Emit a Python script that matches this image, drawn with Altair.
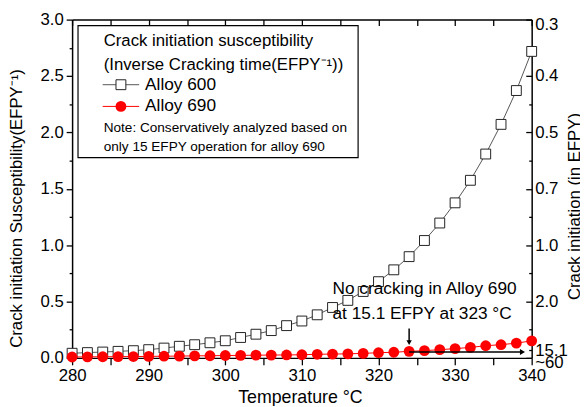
import altair as alt
import pandas as pd

# ---------------- data ----------------
temps = list(range(280, 341, 2))
alloy600 = [0.041, 0.047, 0.052, 0.058, 0.064, 0.073, 0.087, 0.103, 0.117, 0.134,
            0.152, 0.181, 0.210, 0.242, 0.286, 0.327, 0.382, 0.447, 0.510, 0.589,
            0.676, 0.781, 0.898, 1.041, 1.196, 1.375, 1.575, 1.808, 2.071, 2.371, 2.718]
alloy690 = [0.008, 0.009, 0.010, 0.011, 0.012, 0.013, 0.015, 0.016, 0.018, 0.019,
            0.021, 0.022, 0.024, 0.025, 0.026, 0.028, 0.032, 0.034, 0.036, 0.040,
            0.046, 0.050, 0.058, 0.064, 0.073, 0.082, 0.093, 0.108, 0.117, 0.131, 0.151]
series_names = ["Alloy 600", "Alloy 690"]
legend_title = ["Crack initiation susceptibility", "(Inverse Cracking time(EFPY\u207b\u00b9))"]
legend_note = ["Note: Conservatively analyzed based on", "only 15 EFPY operation for alloy 690"]
annotation_text = ["No cracking in Alloy 690", "at 15.1 EFPY at 323 \u00b0C"]
annotation_temp = [314, 314]
annotation_val = [0.612, 0.385]
arrow_down = {"T": [324], "v1": [0.26], "v2": [0.135]}
arrow_right = {"T1": [324], "T2": [338.8], "v": [0.052]}
x_ticks = list(range(280, 341, 5))
y_ticks = [i * 0.25 for i in range(13)]
right_vals = [3.0, 2.5, 2.0, 1.5, 1.0, 0.5, 0.0662, 0.0]
right_labels = ["0.3", "0.4", "0.5", "0.7", "1.0", "2.0", "15.1", "~60"]
right_ticks = y_ticks + [0.0662]

FONT = "Liberation Sans"

df600 = pd.DataFrame({"T": temps, "S": alloy600})
df690 = pd.DataFrame({"T": temps, "S": alloy690})
df_ann = pd.DataFrame({"T": annotation_temp, "S": annotation_val, "txt": annotation_text})
df_down = pd.DataFrame(arrow_down)
df_right = pd.DataFrame(arrow_right)
one = pd.DataFrame({"a": [0]})

x_scale = alt.Scale(domain=[280, 340], nice=False, zero=False)
y_scale = alt.Scale(domain=[0, 3], nice=False, zero=False)

minor_test = "datum.value % 0.5 != 0"

main_x_axis = alt.Axis(
    values=x_ticks, labelExpr="datum.value % 10 == 0 ? datum.label : ''",
    tickSize=7, tickWidth=1.3, domainWidth=1.5, labelFontSize=17, labelPadding=3,
    labelFlush=False, labelOverlap=False, grid=False,
    title="Temperature \u00b0C", titleFontSize=18, titleX=231, titleY=45,
    titleBaseline="alphabetic", titleAlign="center", orient="bottom")

main_y_axis = alt.Axis(
    values=y_ticks, labelExpr="datum.value % 0.5 == 0 ? format(datum.value, '.1f') : ''",
    tickSize={"condition": {"test": minor_test, "value": 3}, "value": 6},
    tickWidth=1.3, domainWidth=1.5, labelFontSize=17, labelPadding=3,
    labelOverlap=False, grid=False,
    title="Crack initiation Susceptibility(EFPY\u207b\u00b9)", titleFontSize=17,
    titleAngle=270, titleX=-56, titleY=191, titleAlign="center", titleBaseline="middle",
    orient="left")

top_frame_axis = alt.Axis(
    values=x_ticks, labels=False, tickSize=6, tickWidth=1.3, domainWidth=1.5,
    grid=False, title=None, orient="bottom", offset=-343)

right_tick_axis = alt.Axis(
    values=right_ticks, labels=False,
    tickSize={"condition": {"test": minor_test, "value": 3}, "value": 6},
    tickWidth=1.3, domainWidth=1.5, grid=False, title=None, orient="left", offset=-466)

right_label_expr = " : ".join(
    f"datum.value == {v} ? '{l}'" for v, l in zip(right_vals, right_labels)) + " : ''"

right_label_axis = alt.Axis(
    values=right_vals, labelExpr=right_label_expr, ticks=False, domain=False,
    labelFontSize=17, labelPadding=3, labelOverlap=False, grid=False,
    labelOffset={"condition": {"test": "datum.value == 0 || datum.value == 3", "value": 5}, "value": 0},
    title="Crack initiation (in EFPY)", titleFontSize=17, titleAngle=270,
    titleX=43, titleY=189, titleAlign="center", titleBaseline="middle", orient="right")

# ---------------- series ----------------
line600 = alt.Chart(df600).mark_line(color="#555555", strokeWidth=1).encode(
    x=alt.X("T:Q", scale=x_scale, axis=main_x_axis),
    y=alt.Y("S:Q", scale=y_scale, axis=main_y_axis))
pts600 = alt.Chart(df600).mark_point(
    shape="square", size=100, filled=True, fill="white", stroke="#222222",
    strokeWidth=1, opacity=1).encode(
    x=alt.X("T:Q", axis=None), y=alt.Y("S:Q", axis=None))

line690 = alt.Chart(df690).mark_line(color="red", strokeWidth=1).encode(
    x=alt.X("T:Q", axis=top_frame_axis),
    y=alt.Y("S:Q", axis=right_tick_axis))
pts690 = alt.Chart(df690).mark_circle(color="red", size=120, opacity=1).encode(
    x=alt.X("T:Q", axis=None), y=alt.Y("S:Q", axis=None))

# ---------------- annotation ----------------
ann = alt.Chart(df_ann).mark_text(
    align="left", baseline="middle", fontSize=17.5, font=FONT, color="black").encode(
    x=alt.X("T:Q", axis=None), y=alt.Y("S:Q", axis=right_label_axis), text="txt:N")

down_rule = alt.Chart(df_down).mark_rule(color="black", strokeWidth=1.5).encode(
    x=alt.X("T:Q", axis=None), y=alt.Y("v1:Q", axis=None), y2="v2:Q")
down_head = alt.Chart(df_down).mark_point(
    shape="triangle-down", filled=True, color="black", size=30, opacity=1).encode(
    x=alt.X("T:Q", axis=None), y=alt.Y("v2:Q", axis=None))
right_rule = alt.Chart(df_right).mark_rule(color="black", strokeWidth=1.5).encode(
    x=alt.X("T1:Q", axis=None), x2="T2:Q", y=alt.Y("v:Q", axis=None))
right_head = alt.Chart(df_right).mark_point(
    shape="triangle-right", filled=True, color="black", size=35, opacity=1).encode(
    x=alt.X("T2:Q", axis=None), y=alt.Y("v:Q", axis=None))

# ---------------- legend (drawn by hand) ----------------
leg_box = alt.Chart(one).mark_rect(fill="white", stroke="black", strokeWidth=1.2).encode(
    x=alt.value(6), x2=alt.value(290), y=alt.value(6), y2=alt.value(140))

def leg_text(txt, x, y, size):
    return alt.Chart(one).mark_text(
        align="left", baseline="middle", fontSize=size, font=FONT, color="black",
        text=txt).encode(x=alt.value(x), y=alt.value(y))

leg_t1 = leg_text(legend_title[0], 32, 22, 17)
leg_t2 = leg_text(legend_title[1], 32, 46, 17)
leg_n1 = leg_text(legend_note[0], 32, 110, 13.8)
leg_n2 = leg_text(legend_note[1], 32, 129, 13.8)
leg_a600 = leg_text(series_names[0], 74, 66, 17.5)
leg_a690 = leg_text(series_names[1], 74, 88, 17.5)

leg_l600 = alt.Chart(one).mark_rule(color="#555555", strokeWidth=1).encode(
    x=alt.value(31), x2=alt.value(68), y=alt.value(66))
leg_p600 = alt.Chart(one).mark_point(
    shape="square", size=100, filled=True, fill="white", stroke="#222222",
    strokeWidth=1, opacity=1).encode(x=alt.value(49.5), y=alt.value(66))
leg_l690 = alt.Chart(one).mark_rule(color="red", strokeWidth=1).encode(
    x=alt.value(31), x2=alt.value(68), y=alt.value(88))
leg_p690 = alt.Chart(one).mark_circle(color="red", size=120, opacity=1).encode(
    x=alt.value(49.5), y=alt.value(88))

chart = alt.layer(
    line600, pts600, line690, pts690, ann, down_rule, down_head, right_rule, right_head,
    leg_box, leg_t1, leg_t2, leg_l600, leg_p600, leg_a600, leg_l690, leg_p690, leg_a690,
    leg_n1, leg_n2
).resolve_scale(x="shared", y="shared").resolve_axis(
    x="independent", y="independent"
).properties(
    width=466, height=343,
    autosize=alt.AutoSizeParams(type="none"),
    padding={"left": 65, "top": 9, "right": 49, "bottom": 46},
    background="white",
).configure_view(strokeWidth=0).configure_axis(
    labelFont=FONT, titleFont=FONT, labelColor="black", titleColor="black",
    domainColor="black", tickColor="black", titleFontWeight="normal", grid=False
)

chart.save("out.html", embed_options={"renderer": "svg", "actions": False})
